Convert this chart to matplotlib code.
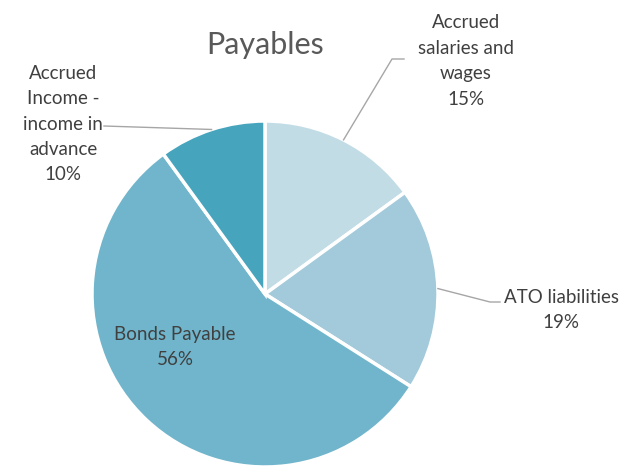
import numpy as np
import matplotlib.pyplot as plt

labels = ["Accrued\nsalaries and\nwages", "ATO liabilities", "Bonds Payable",
          "Accrued\nIncome -\nincome in\nadvance"]
shares = [15, 19, 56, 10]
colors = ["#C2DCE5", "#A2CADA", "#70B5CB", "#47A4BD"]

W, H = 636, 466
fig = plt.figure(figsize=(W / 100, H / 100), dpi=100)
ax = fig.add_axes([0, 0, 1, 1])

cx, cy, r = 265, H - 294, 173
wedges, _ = ax.pie(shares, colors=colors, startangle=90, counterclock=False,
                   center=(cx, cy), radius=r, frame=True,
                   wedgeprops=dict(edgecolor="white", linewidth=2.5))
ax.set_xlim(0, W)
ax.set_ylim(0, H)
ax.set_aspect("equal")
ax.axis("off")

font = "Lato"
txt = "#404040"
line_c = "#A6A6A6"

ax.text(cx, H - 45, "Payables", ha="center", va="center", fontsize=22,
        color="#595959", family=font)


def anchor(w):
    a = np.deg2rad((w.theta1 + w.theta2) / 2)
    return cx + r * np.cos(a), cy + r * np.sin(a)


# label positions (pixel coords from top) and leader elbows
label_pos = [(466, 61), (561, 310), (175, 347), (63, 124)]
elbows = [[(392, 59), (404, 59)], [(490, 302), (500, 302)], None,
          [(104, 126)]]

for w, lab, p, (tx, ty), el in zip(wedges, labels, shares, label_pos, elbows):
    ax.text(tx, H - ty, f"{lab}\n{p}%", ha="center", va="center",
            fontsize=13.5, color=txt, family=font, linespacing=1.6)
    if el is not None:
        x0, y0 = anchor(w)
        xs = [x0] + [e[0] for e in el]
        ys = [y0] + [H - e[1] for e in el]
        ax.plot(xs, ys, color=line_c, lw=1)

fig.savefig("out.png", dpi=100)
